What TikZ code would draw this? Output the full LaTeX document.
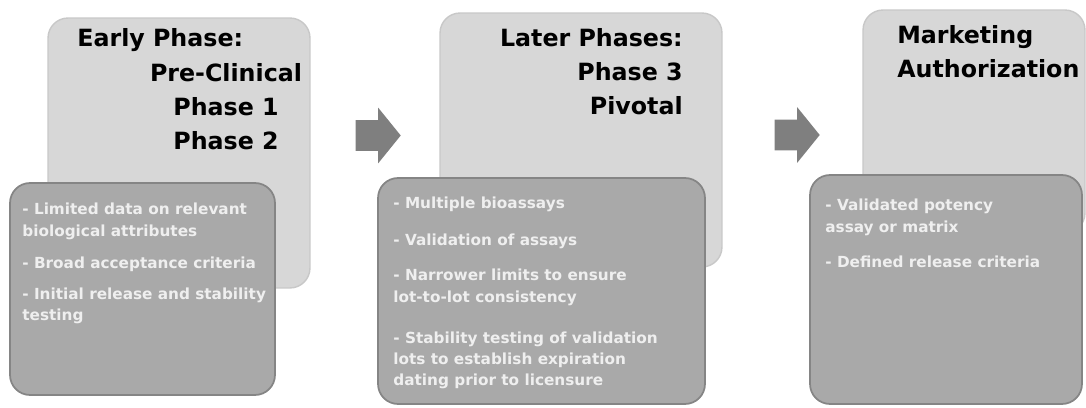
\documentclass[tikz,border=0pt]{standalone}
\usepackage{fontspec}
\setmainfont{DejaVu Sans}
\usetikzlibrary{shapes.arrows}
\definecolor{phaselight}{HTML}{D7D7D7}
\definecolor{phaseedge}{HTML}{C8C8C8}
\definecolor{detailfill}{HTML}{A9A9A9}
\definecolor{detailedge}{HTML}{858585}
\definecolor{detailtext}{HTML}{EFEFEF}
\definecolor{arrowgray}{HTML}{7F7F7F}
\tikzset{
    phase box/.style={
        draw=phaseedge,
        fill=phaselight,
        line width=0.8pt,
        rounded corners=0.4cm,
        inner sep=0pt
    },
    detail box/.style={
        draw=detailedge,
        fill=detailfill,
        line width=1pt,
        rounded corners=0.4cm,
        inner sep=0pt
    },
    phase title/.style={
        inner sep=0pt,
        font=\fontsize{13.5}{19.3}\selectfont\bfseries
    },
    detail text/.style={
        inner sep=0pt,
        align=left,
        text=detailtext,
        font=\fontsize{8.7}{12.2}\selectfont\bfseries
    },
    phase arrow/.style={
        single arrow,
        fill=arrowgray,
        inner xsep=0pt,
        inner ysep=0.3cm,
        minimum height=0.9cm,
        single arrow head extend=0.25cm,
        single arrow tip angle=102
    }
}
\begin{document}
\begin{tikzpicture}[x=0.02cm,y=-0.02cm]
    \useasboundingbox (0,0) rectangle (1086,408);

    % light phase boxes
    \node[phase box, minimum width=5.24cm, minimum height=5.4cm] (early) at (179,153) {};
    \node[phase box, minimum width=5.64cm, minimum height=5.08cm] (later) at (581,140) {};
    \node[phase box, minimum width=4.44cm, minimum height=4.46cm] (market) at (974,121.5) {};

    % titles
    \node[phase title, anchor=north west] (early title) at (77,28) {Early Phase:};
    \node[phase title, anchor=north, align=center] (early list) at (226,63) {Pre-Clinical\\Phase 1\\Phase 2};
    \node[phase title, anchor=north east, align=right] (later title) at (683,28) {Later Phases:\\Phase 3\\Pivotal};
    \node[phase title, anchor=north west, align=left] (market title) at (897,25) {Marketing\\Authorization};

    % darker detail boxes
    \node[detail box, minimum width=5.3cm, minimum height=4.24cm] (early detail) at (142.5,289) {};
    \node[detail box, minimum width=6.54cm, minimum height=4.52cm] (later detail) at (541.5,291) {};
    \node[detail box, minimum width=5.44cm, minimum height=4.58cm] (market detail) at (946,289.5) {};

    \node[detail text, anchor=north west] (early points) at (22,203)
        {- Limited data on relevant\\biological attributes\\[6pt]- Broad acceptance criteria\\[5.5pt]- Initial release and stability\\testing};
    \node[detail text, anchor=north west] (later points) at (393,197)
        {- Multiple bioassays\\[8.8pt]- Validation of assays\\[7.7pt]- Narrower limits to ensure\\lot-to-lot consistency\\[11pt]- Stability testing of validation\\lots to establish expiration\\dating prior to licensure};
    \node[detail text, anchor=north west] (market points) at (825,199)
        {- Validated potency\\assay or matrix\\[7.5pt]- Defined release criteria};

    % arrows between the phases
    \node[phase arrow] (step one) at (372,135.5) {};
    \node[phase arrow] (step two) at (791,135) {};
\end{tikzpicture}
\end{document}
